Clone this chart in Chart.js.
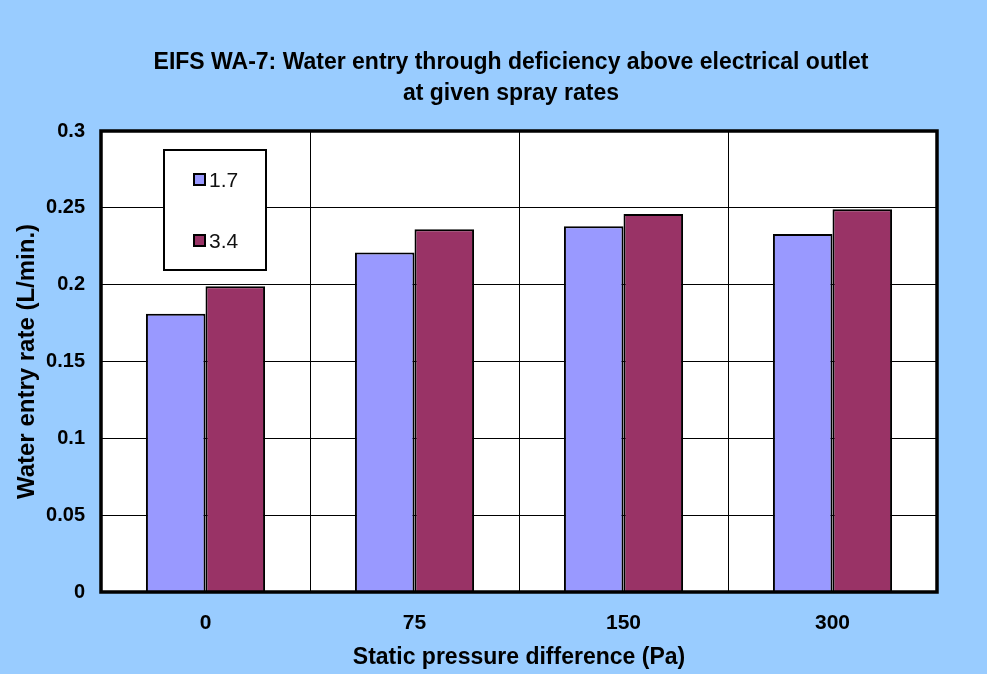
<!DOCTYPE html>
<html>
<head>
<meta charset="utf-8">
<title>EIFS WA-7 water entry</title>
<script src="https://cdn.jsdelivr.net/npm/chart.js@4/dist/chart.umd.min.js"></script>
<style>
  html, body { margin: 0; padding: 0; background: #99ccff; }
  canvas { display: block; }
</style>
</head>
<body>
<canvas id="chart" width="987" height="674"></canvas>
<script>
// pressure steps (Pa) and the water entry rate measured at each spray rate
const pressures = ['0', '75', '150', '300'];
const sprayRates = ['1.7', '3.4'];
const rateLow = [0.181, 0.221, 0.238, 0.233];
const rateHigh = [0.199, 0.236, 0.246, 0.249];
const yTicks = [0, 0.05, 0.1, 0.15, 0.2, 0.25, 0.3];

const titleLines = [
  'EIFS WA-7: Water entry through deficiency above electrical outlet',
  'at given spray rates'
];

const FONT = '"Liberation Sans", Arial, sans-serif';
const BG = '#99ccff';
const barColors = ['#9999ff', '#993366'];

// light blue page, white plot area
const backdrop = {
  id: 'backdrop',
  beforeDraw(chart) {
    const { ctx, chartArea: a } = chart;
    ctx.save();
    ctx.fillStyle = BG;
    ctx.fillRect(0, 0, chart.width, chart.height);
    ctx.fillStyle = '#ffffff';
    ctx.fillRect(a.left, a.top, a.right - a.left, a.bottom - a.top);
    ctx.restore();
  },
  afterDatasetsDraw(chart) {
    const { ctx, chartArea: a } = chart;
    ctx.save();
    ctx.strokeStyle = '#000';
    ctx.lineWidth = 3.5;
    ctx.strokeRect(a.left, a.top, a.right - a.left, a.bottom - a.top);
    ctx.restore();
  }
};

// two-line heading over the plot
const heading = {
  id: 'heading',
  afterDraw(chart) {
    const ctx = chart.ctx;
    ctx.save();
    ctx.fillStyle = '#000';
    ctx.font = 'bold 23px ' + FONT;
    ctx.textAlign = 'center';
    ctx.textBaseline = 'middle';
    titleLines.forEach((line, i) => ctx.fillText(line, 511, 63 + i * 31));
    ctx.restore();
  }
};

// boxed legend sitting inside the plot area
const boxLegend = {
  id: 'boxLegend',
  afterDraw(chart) {
    const { ctx, chartArea: a } = chart;
    const x = a.left + 63, y = a.top + 19, w = 102, h = 120;
    ctx.save();
    ctx.fillStyle = '#fff';
    ctx.fillRect(x, y, w, h);
    ctx.strokeStyle = '#000';
    ctx.lineWidth = 2;
    ctx.strokeRect(x, y, w, h);
    ctx.font = '21px ' + FONT;
    ctx.textBaseline = 'middle';
    chart.data.datasets.forEach((ds, i) => {
      const cy = y + 30 + i * 61;
      ctx.fillStyle = ds.backgroundColor;
      ctx.fillRect(x + 30, cy - 6, 11, 11);
      ctx.lineWidth = 2;
      ctx.strokeRect(x + 30, cy - 6, 11, 11);
      ctx.fillStyle = '#111';
      ctx.fillText(ds.label, x + 45, cy + 1);
    });
    ctx.restore();
  }
};

new Chart(document.getElementById('chart'), {
  type: 'bar',
  data: {
    labels: pressures,
    datasets: [
      {
        label: sprayRates[0],
        data: rateLow,
        backgroundColor: barColors[0],
        borderColor: '#000',
        borderWidth: 2
      },
      {
        label: sprayRates[1],
        data: rateHigh,
        backgroundColor: barColors[1],
        borderColor: '#000',
        borderWidth: 2
      }
    ]
  },
  options: {
    responsive: false,
    animation: false,
    events: [],
    categoryPercentage: 0.57,
    barPercentage: 1,
    layout: { padding: { top: 131, right: 50, left: 0, bottom: 0 } },
    plugins: {
      legend: { display: false },
      title: { display: false },
      tooltip: { enabled: false }
    },
    scales: {
      x: {
        offset: true,
        grid: { offset: true, color: '#000', lineWidth: 1, drawTicks: false },
        border: { display: false },
        ticks: { color: '#000', font: { family: FONT, size: 21, weight: 'bold' }, padding: 19 },
        title: {
          display: true,
          text: 'Static pressure difference (Pa)',
          color: '#000',
          font: { family: FONT, size: 23, weight: 'bold' },
          padding: { top: 0, bottom: 3 }
        },
        afterFit(scale) { scale.height = 82; }
      },
      y: {
        min: 0,
        max: 0.3,
        afterBuildTicks(scale) { scale.ticks = yTicks.map(v => ({ value: v })); },
        grid: { color: '#000', lineWidth: 1, drawTicks: false },
        border: { display: false },
        ticks: {
          color: '#000',
          font: { family: FONT, size: 20, weight: 'bold' },
          padding: 16,
          callback: v => String(v)
        },
        title: {
          display: true,
          text: 'Water entry rate (L/min.)',
          color: '#000',
          font: { family: FONT, size: 24, weight: 'bold' },
          padding: { top: 13, bottom: 0 }
        },
        afterFit(scale) { scale.width = 101; }
      }
    }
  },
  plugins: [backdrop, heading, boxLegend]
});
</script>
</body>
</html>
